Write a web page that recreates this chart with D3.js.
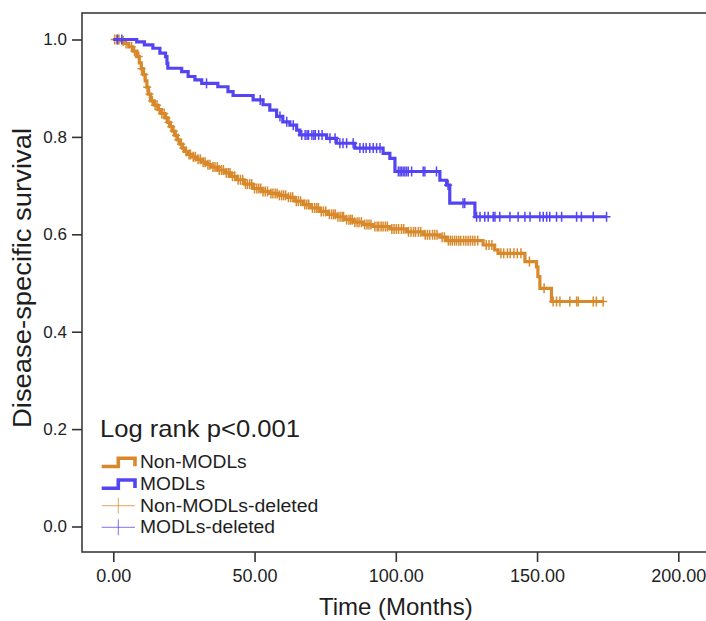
<!DOCTYPE html>
<html>
<head>
<meta charset="utf-8">
<script src="https://d3js.org/d3.v7.min.js"></script>
<style>
  html, body { margin: 0; padding: 0; background: #fff; }
  svg { display: block; }
  text { font-family: "Liberation Sans", Arial, sans-serif; fill: #1e1e1e; }
</style>
</head>
<body>
<svg id="chart" width="706" height="621"></svg>
<script>
// ---------------- DATA ----------------
const xTicks = [0, 50, 100, 150, 200];
const yTicks = [0.0, 0.2, 0.4, 0.6, 0.8, 1.0];

// Non-MODLs: step times (months) and survival after each step
const nonModlsTimes = [0, 2.5, 4, 5.5, 7, 8.3, 9.2, 9.9, 10.6, 11.3, 11.9, 12.4, 13.2, 14.5, 15.9, 17, 18.3, 19.3, 20.1, 21, 21.8, 22.7, 23.6, 24.5, 25.4, 26.5, 27.7, 29.5, 31.3, 33, 34.8, 37, 39.5, 41.5, 43.7, 46.5, 49.5, 52.5, 55.4, 58.5, 61.4, 64.3, 67.2, 70, 73.1, 76, 79, 82, 85, 88.5, 92, 98, 103.8, 109.7, 115.6, 118, 130.9, 135, 136.2, 145.7, 149.8, 150.3, 151, 155.1];
const nonModlsSurv  = [1.0, 0.997, 0.992, 0.985, 0.976, 0.965, 0.952, 0.940, 0.928, 0.915, 0.902, 0.888, 0.874, 0.865, 0.856, 0.848, 0.839, 0.830, 0.821, 0.812, 0.803, 0.794, 0.785, 0.777, 0.770, 0.764, 0.759, 0.754, 0.748, 0.743, 0.738, 0.732, 0.726, 0.719, 0.712, 0.703, 0.694, 0.688, 0.684, 0.680, 0.676, 0.668, 0.661, 0.654, 0.647, 0.641, 0.636, 0.630, 0.625, 0.620, 0.616, 0.611, 0.605, 0.599, 0.594, 0.587, 0.578, 0.568, 0.561, 0.544, 0.533, 0.513, 0.489, 0.462];
const nonModlsCensored = [0.5, 1.2, 2, 3.5, 4.5, 6.5, 7.5, 9, 10, 11, 12, 12.8, 13.8, 14.8, 15.5, 16.3, 17.2, 18, 18.8, 19.6, 20.5, 21.4, 22.2, 23, 24, 24.8, 25.8, 26.8, 27.3, 28.3, 29, 30, 30.8, 31.8, 32.5, 33.5, 34.2, 35.3, 36, 36.8, 37.5, 38.3, 39, 40, 40.7, 41.3, 42.2, 43, 44.2, 45, 45.8, 46.8, 47.5, 48.3, 49, 50, 50.8, 51.5, 52.2, 53, 53.8, 54.6, 55.8, 56.5, 57.3, 58, 58.8, 59.6, 60.3, 61, 62, 62.8, 63.5, 64.8, 65.5, 66.3, 67.8, 68.5, 69.2, 70.5, 71.3, 72, 72.6, 73.6, 74.4, 75.2, 76.5, 77.3, 78, 78.6, 79.5, 80.3, 81, 81.5, 82.6, 83.4, 84, 84.6, 85.5, 86.3, 87, 87.8, 89, 89.8, 90.5, 91.2, 92.6, 93.4, 94, 94.8, 95.5, 96.3, 97, 98.6, 99.4, 100.2, 101, 102, 102.8, 104.5, 105.4, 106.3, 107, 108, 108.8, 110.4, 111.2, 112, 113, 113.8, 114.6, 116.4, 117.2, 118.6, 119.3, 120, 120.8, 121.5, 122.3, 123, 124, 124.8, 125.6, 126.4, 127.2, 128, 129, 132, 133, 134, 137.2, 138.2, 139.5, 140.5, 141.8, 143, 144.3, 147.3, 152.5, 155.7, 156.9, 158.1, 161.6, 164, 164.6, 169.9, 171, 173.4];

// MODLs
const modlsTimes = [0, 8.3, 11, 14, 16.5, 18.5, 19, 19.3, 24.2, 26.5, 28.9, 31.3, 37, 40.6, 42.4, 49.5, 53, 55.4, 57.8, 60, 62.5, 64.9, 66, 75.5, 79, 85.5, 95.5, 97.9, 99.7, 115.6, 118, 119.1, 128];
const modlsSurv  = [1.0, 0.995, 0.989, 0.982, 0.972, 0.965, 0.951, 0.941, 0.934, 0.924, 0.917, 0.910, 0.903, 0.893, 0.885, 0.876, 0.866, 0.855, 0.842, 0.831, 0.824, 0.814, 0.804, 0.797, 0.787, 0.777, 0.766, 0.756, 0.729, 0.711, 0.701, 0.664, 0.636];
const modlsCensored = [1.5, 3, 33, 52, 59, 61.4, 63.7, 66.7, 67.9, 68.6, 69.1, 70.3, 71, 71.5, 72.7, 73.9, 76.7, 78.5, 80.2, 81.3, 82.6, 84.9, 87.3, 88.5, 89.5, 90.8, 92, 93.2, 94.4, 100.9, 101.5, 102, 102.6, 103.2, 103.8, 104.4, 105.6, 109.7, 110.3, 114.4, 118.5, 123.8, 124.4, 128.6, 129.8, 131.5, 132.7, 134.5, 135.1, 136.8, 140.4, 143.3, 145.7, 147.5, 151, 152.2, 153.4, 154.5, 156.9, 158.7, 164, 165.7, 169.9, 174.6];

const legendLabels = ["Non-MODLs", "MODLs", "Non-MODLs-deleted", "MODLs-deleted"];
const pValueText = "Log rank p<0.001";
const xTitle = "Time (Months)";
const yTitle = "Disease-specific survival";

// ---------------- STYLE ----------------
const ORANGE = "#D8892B";
const BLUE = "#5444F2";

const svg = d3.select("#chart");

const x = d3.scaleLinear().domain([0, 200]).range([113.3, 678.3]);
const y = d3.scaleLinear().domain([0, 1]).range([526.5, 39.5]);

const frame = { left: 82, top: 13, bottom: 552, right: 730 };

// frame
svg.append("rect")
  .attr("x", frame.left).attr("y", frame.top)
  .attr("width", frame.right - frame.left).attr("height", frame.bottom - frame.top)
  .attr("fill", "none").attr("stroke", "#3c3c3c").attr("stroke-width", 1.6);

// axes
const yAxis = svg.append("g")
  .attr("transform", `translate(${frame.left},0)`)
  .call(d3.axisLeft(y).tickValues(yTicks).tickFormat(d3.format(".1f")).tickSize(10).tickPadding(5));
yAxis.select(".domain").remove();
yAxis.selectAll(".tick line").attr("stroke", "#333").attr("stroke-width", 1.6);
yAxis.selectAll(".tick text").attr("font-size", 17).attr("fill", "#1e1e1e")
  .style("font-family", '"Liberation Sans", Arial, sans-serif');

const xAxis = svg.append("g")
  .attr("transform", `translate(0,${frame.bottom})`)
  .call(d3.axisBottom(x).tickValues(xTicks).tickFormat(d3.format(".2f")).tickSize(10).tickPadding(7));
xAxis.select(".domain").remove();
xAxis.selectAll(".tick line").attr("stroke", "#333").attr("stroke-width", 1.6);
xAxis.selectAll(".tick text").attr("font-size", 18).attr("fill", "#1e1e1e")
  .style("font-family", '"Liberation Sans", Arial, sans-serif');

// axis titles
svg.append("text")
  .attr("x", x(100)).attr("y", 615)
  .attr("text-anchor", "middle").attr("font-size", 24)
  .text(xTitle);

svg.append("text")
  .attr("transform", "translate(31,278) rotate(-90)")
  .attr("text-anchor", "middle").attr("font-size", 25)
  .attr("textLength", 300).attr("lengthAdjust", "spacingAndGlyphs")
  .text(yTitle);

// survival curves
function survAt(times, surv, t) {
  const i = d3.bisectRight(times, t) - 1;
  return surv[Math.max(0, i)];
}

function drawCurve(times, surv, censored, color) {
  const endT = d3.max(censored);
  const pts = times.map((t, i) => [t, surv[i]]);
  pts.push([endT, survAt(times, surv, endT)]);
  const line = d3.line().x(d => x(d[0])).y(d => y(d[1])).curve(d3.curveStepAfter);
  svg.append("path")
    .attr("d", line(pts))
    .attr("fill", "none").attr("stroke", color).attr("stroke-width", 3.2)
    .attr("stroke-linejoin", "miter");
  const g = svg.append("g").attr("stroke", color).attr("stroke-width", 1.5);
  censored.forEach(t => {
    const cx = x(t), cy = y(survAt(times, surv, t));
    g.append("line").attr("x1", cx).attr("x2", cx).attr("y1", cy - 5).attr("y2", cy + 5);
    g.append("line").attr("x1", cx - 4).attr("x2", cx + 4).attr("y1", cy).attr("y2", cy);
  });
}

drawCurve(nonModlsTimes, nonModlsSurv, nonModlsCensored, ORANGE);
drawCurve(modlsTimes, modlsSurv, modlsCensored, BLUE);

// legend
svg.append("text")
  .attr("x", 100).attr("y", 437)
  .attr("font-size", 24)
  .attr("textLength", 200).attr("lengthAdjust", "spacingAndGlyphs")
  .text(pValueText);

const legBase = [468.3, 490, 511.7, 533.3];
const legLen = [106.7, 65, 178.3, 135];
const legColors = [ORANGE, BLUE, ORANGE, BLUE];

legendLabels.forEach((lab, i) => {
  svg.append("text")
    .attr("x", 140).attr("y", legBase[i])
    .attr("font-size", 18)
    .attr("textLength", legLen[i]).attr("lengthAdjust", "spacingAndGlyphs")
    .text(lab);
  const b = legBase[i];
  if (i < 2) {
    const p = d3.path();
    p.moveTo(101.7, b - 1.8);
    p.lineTo(118.3, b - 1.8);
    p.lineTo(118.3, b - 10);
    p.lineTo(135, b - 10);
    p.lineTo(135, b - 2);
    svg.append("path").attr("d", p.toString())
      .attr("fill", "none").attr("stroke", legColors[i]).attr("stroke-width", 3.6);
  } else {
    const cy = b - 6;
    svg.append("line").attr("x1", 101.7).attr("x2", 135).attr("y1", cy).attr("y2", cy)
      .attr("stroke", legColors[i]).attr("stroke-width", 1).attr("opacity", 0.75);
    svg.append("line").attr("x1", 118.3).attr("x2", 118.3).attr("y1", cy - 8).attr("y2", cy + 8)
      .attr("stroke", legColors[i]).attr("stroke-width", 1).attr("opacity", 0.75);
  }
});
</script>
</body>
</html>
